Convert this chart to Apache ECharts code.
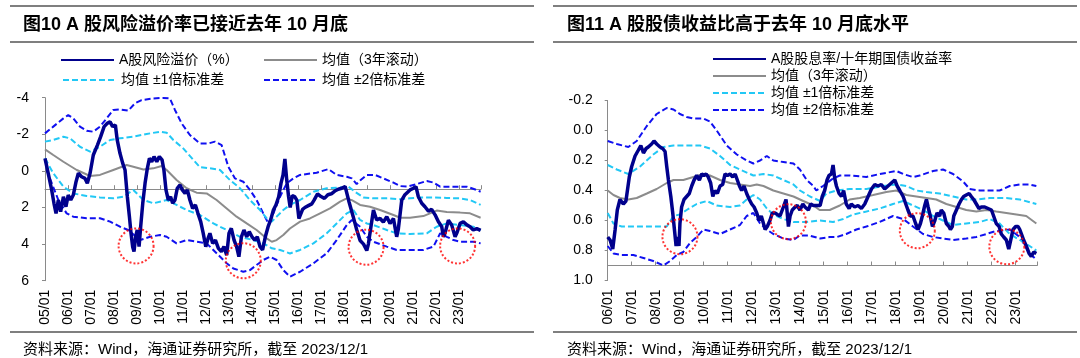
<!DOCTYPE html>
<html><head><meta charset="utf-8">
<script src="https://cdn.jsdelivr.net/npm/echarts@6/dist/echarts.min.js"></script>
<style>html,body{margin:0;padding:0;background:#fff}#c{width:1080px;height:358px}</style>
</head><body><div id="c"></div>
<script>
// ---------- Left panel: A股风险溢价 ----------
const leftYTicks = [-4, -2, 0, 2, 4, 6];
const riskPremium = [[2005.00,-0.69],[2005.14,0.13],[2005.29,1.04],[2005.39,1.77],[2005.48,2.32],[2005.58,1.59],[2005.68,2.23],[2005.80,1.41],[2005.91,1.96],[2006.01,1.32],[2006.12,1.59],[2006.23,1.32],[2006.35,0.59],[2006.45,0.13],[2006.59,0.32],[2006.74,0.41],[2006.84,0.68],[2006.96,0.13],[2007.10,-0.87],[2007.28,-1.41],[2007.42,-1.87],[2007.57,-2.42],[2007.71,-2.60],[2007.83,-2.69],[2007.94,-2.42],[2008.06,-2.51],[2008.14,-1.69],[2008.26,-0.96],[2008.38,-0.41],[2008.48,-0.05],[2008.58,1.41],[2008.67,2.5],[2008.74,3.41],[2008.81,4.14],[2008.87,4.41],[2008.94,3.6],[2009.01,3.23],[2009.09,4.14],[2009.16,3.05],[2009.25,1.77],[2009.35,0.68],[2009.45,-0.14],[2009.54,-0.69],[2009.64,-0.5],[2009.74,-0.78],[2009.86,-0.5],[2009.97,-0.78],[2010.09,-0.6],[2010.17,-0.05],[2010.26,1.04],[2010.36,1.59],[2010.46,1.41],[2010.55,1.77],[2010.65,1.59],[2010.75,0.95],[2010.87,0.77],[2010.97,1.04],[2011.09,1.23],[2011.19,1.04],[2011.30,1.59],[2011.42,2.05],[2011.54,1.86],[2011.65,2.32],[2011.77,2.77],[2011.88,3.41],[2011.99,4.14],[2012.09,3.69],[2012.17,3.41],[2012.29,3.96],[2012.41,3.78],[2012.54,4.23],[2012.67,4.41],[2012.78,4.14],[2012.90,4.6],[2013.00,3.41],[2013.10,3.14],[2013.22,3.78],[2013.33,4.14],[2013.43,4.69],[2013.54,3.6],[2013.65,3.23],[2013.77,3.6],[2013.88,3.32],[2014.00,3.6],[2014.12,3.78],[2014.23,3.6],[2014.35,4.14],[2014.46,4.32],[2014.58,3.6],[2014.70,3.05],[2014.81,2.68],[2014.93,2.14],[2015.04,1.86],[2015.16,1.41],[2015.26,0.68],[2015.35,0.22],[2015.43,-0.65],[2015.51,0.5],[2015.59,1.4],[2015.66,2.0],[2015.75,1.35],[2015.85,1.4],[2015.95,1.6],[2016.04,2.6],[2016.12,2.5],[2016.20,2.1],[2016.30,2.0],[2016.45,1.9],[2016.60,1.8],[2016.70,1.6],[2016.85,1.25],[2017.00,1.4],[2017.15,1.5],[2017.30,1.3],[2017.45,1.25],[2017.60,1.1],[2017.75,1.0],[2017.90,0.95],[2018.05,0.85],[2018.12,1.2],[2018.22,1.7],[2018.40,2.5],[2018.55,3.2],[2018.70,3.8],[2018.85,4.0],[2018.99,4.35],[2019.06,4.0],[2019.13,3.4],[2019.28,2.14],[2019.35,2.1],[2019.42,2.68],[2019.57,2.6],[2019.71,2.8],[2019.86,2.5],[2020.00,2.87],[2020.15,2.6],[2020.22,3.1],[2020.29,3.6],[2020.36,3.2],[2020.51,1.6],[2020.65,1.3],[2020.87,1.04],[2021.02,0.95],[2021.13,0.86],[2021.23,1.4],[2021.38,1.77],[2021.52,1.96],[2021.67,2.2],[2021.81,2.1],[2021.96,2.4],[2022.10,2.77],[2022.25,3.05],[2022.32,3.6],[2022.39,3.41],[2022.54,2.7],[2022.68,2.95],[2022.83,3.6],[2022.90,3.41],[2023.05,2.87],[2023.19,2.78],[2023.34,2.95],[2023.48,3.05],[2023.62,3.23],[2023.77,3.15],[2023.94,3.25]];
const riskMean = [[2005.00,-1.18],[2005.36,-0.87],[2005.80,-0.5],[2006.38,-0.05],[2006.96,0.28],[2007.39,0.22],[2007.97,-0.05],[2008.55,-0.32],[2008.84,-0.23],[2009.28,-0.08],[2009.71,-0.14],[2010.07,-0.27],[2010.29,-0.05],[2010.72,0.5],[2011.16,0.95],[2011.59,1.19],[2012.03,1.23],[2012.46,1.59],[2012.90,2.05],[2013.33,2.5],[2013.77,2.87],[2014.20,3.23],[2014.64,3.69],[2014.86,3.87],[2015.07,3.78],[2015.36,3.5],[2015.65,3.15],[2016.09,2.77],[2016.52,2.6],[2016.96,2.32],[2017.39,2.05],[2017.83,1.68],[2018.12,1.5],[2018.34,1.6],[2018.70,1.86],[2019.13,1.96],[2019.57,2.14],[2020.15,2.41],[2020.44,2.56],[2020.87,2.56],[2021.45,2.47],[2022.03,2.17],[2022.47,2.25],[2023.05,2.28],[2023.48,2.32],[2023.94,2.56]];
const riskUp2 = [[2005.00,-2.05],[2005.36,-2.42],[2005.80,-2.87],[2006.01,-3.05],[2006.23,-2.87],[2006.52,-2.42],[2006.81,-2.2],[2007.10,-2.14],[2007.39,-2.42],[2007.68,-2.87],[2007.97,-3.33],[2008.26,-3.36],[2008.62,-3.29],[2008.91,-3.69],[2009.20,-3.87],[2009.71,-3.96],[2010.14,-3.99],[2010.43,-3.96],[2010.65,-3.33],[2010.94,-2.6],[2011.30,-1.96],[2011.74,-1.5],[2012.10,-1.5],[2012.39,-1.6],[2012.68,-1.41],[2012.97,-0.23],[2013.26,0.41],[2013.62,0.59],[2013.91,1.04],[2014.20,1.59],[2014.49,2.32],[2014.71,2.87],[2014.93,2.32],[2015.22,1.41],[2015.51,0.68],[2015.80,0.41],[2016.09,0.22],[2016.81,0.1],[2017.32,-0.1],[2017.68,0.22],[2018.12,0.32],[2018.34,0.41],[2018.55,0.72],[2018.70,0.53],[2018.99,0.22],[2019.35,0.22],[2019.71,0.41],[2020.15,0.64],[2020.44,0.83],[2020.73,0.86],[2021.16,0.72],[2021.60,0.55],[2021.89,0.64],[2022.18,0.86],[2022.76,0.86],[2023.34,0.86],[2023.77,1.04],[2023.94,1.14]];
const riskUp1 = [[2005.00,-1.6],[2005.36,-1.69],[2005.80,-1.87],[2006.09,-1.78],[2006.52,-1.32],[2006.96,-1.05],[2007.39,-1.32],[2007.83,-1.69],[2008.26,-1.78],[2008.84,-1.87],[2009.42,-2.02],[2010.00,-2.14],[2010.29,-2.09],[2010.58,-1.69],[2011.01,-1.23],[2011.45,-0.6],[2011.74,-0.2],[2012.17,-0.14],[2012.61,-0.05],[2013.04,0.5],[2013.48,0.95],[2013.91,1.59],[2014.35,2.14],[2014.64,2.59],[2014.86,2.77],[2015.07,2.5],[2015.36,2.14],[2015.65,1.86],[2016.09,1.59],[2016.67,1.14],[2017.25,0.95],[2017.97,0.9],[2018.19,0.86],[2018.48,1.14],[2018.84,1.45],[2019.28,1.5],[2019.86,1.5],[2020.44,1.55],[2020.87,1.5],[2021.31,1.45],[2021.89,1.45],[2022.47,1.48],[2023.05,1.5],[2023.48,1.59],[2023.94,1.86]];
const riskDn1 = [[2005.00,-0.69],[2005.36,0.13],[2005.80,0.86],[2006.23,1.23],[2006.81,1.37],[2007.39,1.45],[2007.97,1.5],[2008.41,1.41],[2008.84,1.04],[2009.28,1.59],[2009.71,1.77],[2010.29,1.59],[2010.72,1.86],[2011.16,2.14],[2011.74,2.41],[2012.32,2.87],[2012.90,3.23],[2013.48,3.6],[2014.06,3.78],[2014.49,3.96],[2014.86,4.23],[2015.22,4.32],[2015.65,4.51],[2016.09,4.32],[2016.67,3.96],[2017.25,3.41],[2017.68,2.87],[2018.12,2.32],[2018.41,2.14],[2018.70,2.68],[2018.99,2.87],[2019.28,2.96],[2019.86,3.23],[2020.29,3.41],[2020.87,3.45],[2021.60,3.41],[2022.03,3.05],[2022.47,2.87],[2023.05,2.96],[2023.62,3.05],[2023.94,3.23]];
const riskDn2 = [[2005.07,-0.05],[2005.58,1.59],[2005.94,2.32],[2006.23,2.5],[2006.81,2.59],[2007.39,2.59],[2007.83,2.77],[2008.26,3.05],[2008.62,3.23],[2009.13,3.78],[2009.57,3.6],[2010.00,3.5],[2010.29,3.6],[2010.72,3.96],[2011.16,3.78],[2011.59,3.87],[2012.03,3.96],[2012.46,4.5],[2012.90,5.05],[2013.19,5.33],[2013.62,5.51],[2013.91,5.42],[2014.20,5.14],[2014.49,4.87],[2014.78,4.69],[2015.07,4.87],[2015.36,5.42],[2015.65,5.78],[2016.09,5.51],[2016.67,5.05],[2017.25,4.5],[2017.68,3.78],[2018.12,2.96],[2018.34,2.68],[2018.70,3.05],[2018.99,3.6],[2019.28,3.87],[2019.86,4.14],[2020.29,4.32],[2020.87,4.32],[2021.45,4.32],[2021.89,4.14],[2022.18,3.41],[2022.47,3.6],[2022.76,3.78],[2023.05,3.87],[2023.62,3.87],[2023.94,3.96]];
const leftCircles = [[2008.96,4.10],[2013.62,4.91],[2018.96,4.17],[2022.94,4.10]];

// ---------- Right panel: A股股息率/十年期国债收益率 ----------
const rightYTicks = [-0.2, 0.0, 0.2, 0.4, 0.6, 0.8, 1.0];
const yieldRatio = [[2006.00,0.71],[2006.10,0.73],[2006.21,0.79],[2006.31,0.66],[2006.40,0.53],[2006.51,0.46],[2006.65,0.49],[2006.76,0.47],[2006.90,0.31],[2007.00,0.24],[2007.14,0.17],[2007.28,0.13],[2007.38,0.10],[2007.49,0.15],[2007.60,0.12],[2007.69,0.11],[2007.83,0.09],[2007.93,0.07],[2008.04,0.09],[2008.18,0.11],[2008.29,0.12],[2008.39,0.14],[2008.46,0.24],[2008.53,0.33],[2008.63,0.44],[2008.71,0.55],[2008.78,0.66],[2008.85,0.77],[2008.90,0.71],[2008.97,0.77],[2009.01,0.62],[2009.08,0.51],[2009.18,0.46],[2009.29,0.44],[2009.40,0.42],[2009.50,0.37],[2009.60,0.33],[2009.71,0.30],[2009.82,0.33],[2009.92,0.29],[2010.01,0.30],[2010.10,0.29],[2010.19,0.31],[2010.29,0.35],[2010.38,0.44],[2010.47,0.40],[2010.57,0.42],[2010.68,0.37],[2010.79,0.36],[2010.89,0.29],[2010.99,0.30],[2011.10,0.29],[2011.21,0.31],[2011.31,0.29],[2011.40,0.33],[2011.49,0.37],[2011.58,0.40],[2011.68,0.37],[2011.79,0.42],[2011.90,0.46],[2012.00,0.49],[2012.10,0.51],[2012.21,0.55],[2012.31,0.60],[2012.40,0.57],[2012.49,0.62],[2012.56,0.66],[2012.65,0.64],[2012.76,0.60],[2012.86,0.55],[2012.97,0.55],[2013.07,0.56],[2013.18,0.57],[2013.32,0.51],[2013.43,0.46],[2013.53,0.64],[2013.60,0.57],[2013.69,0.53],[2013.81,0.51],[2013.90,0.50],[2014.01,0.53],[2014.13,0.49],[2014.22,0.51],[2014.36,0.53],[2014.46,0.49],[2014.57,0.50],[2014.71,0.50],[2014.85,0.50],[2014.94,0.44],[2015.04,0.40],[2015.14,0.33],[2015.22,0.30],[2015.32,0.29],[2015.39,0.23],[2015.46,0.32],[2015.53,0.37],[2015.64,0.42],[2015.74,0.44],[2015.83,0.40],[2015.94,0.49],[2016.06,0.52],[2016.15,0.49],[2016.29,0.51],[2016.43,0.50],[2016.57,0.52],[2016.71,0.49],[2016.85,0.44],[2016.99,0.39],[2017.13,0.36],[2017.26,0.37],[2017.40,0.36],[2017.54,0.39],[2017.68,0.37],[2017.82,0.35],[2017.96,0.33],[2018.06,0.37],[2018.17,0.40],[2018.31,0.44],[2018.42,0.49],[2018.51,0.53],[2018.61,0.57],[2018.72,0.57],[2018.83,0.62],[2018.93,0.66],[2019.03,0.62],[2019.11,0.57],[2019.21,0.50],[2019.28,0.46],[2019.35,0.51],[2019.44,0.57],[2019.53,0.64],[2019.63,0.60],[2019.72,0.55],[2019.83,0.57],[2019.90,0.53],[2020.00,0.55],[2020.11,0.62],[2020.22,0.64],[2020.28,0.66],[2020.36,0.64],[2020.42,0.57],[2020.53,0.53],[2020.64,0.49],[2020.74,0.46],[2020.83,0.44],[2020.94,0.43],[2021.06,0.42],[2021.15,0.44],[2021.25,0.46],[2021.36,0.49],[2021.47,0.52],[2021.57,0.51],[2021.71,0.51],[2021.85,0.52],[2021.99,0.53],[2022.08,0.57],[2022.19,0.62],[2022.31,0.64],[2022.40,0.69],[2022.50,0.71],[2022.61,0.73],[2022.71,0.79],[2022.82,0.71],[2022.89,0.66],[2023.00,0.64],[2023.10,0.64],[2023.17,0.66],[2023.24,0.69],[2023.33,0.73],[2023.44,0.77],[2023.56,0.82],[2023.65,0.84],[2023.75,0.81],[2023.86,0.82]];
const yieldMean = [[2006.00,0.40],[2006.24,0.43],[2006.51,0.45],[2006.86,0.46],[2007.21,0.45],[2007.63,0.42],[2008.04,0.39],[2008.46,0.35],[2008.74,0.33],[2009.15,0.33],[2009.57,0.31],[2009.99,0.29],[2010.26,0.30],[2010.68,0.33],[2011.10,0.35],[2011.51,0.36],[2011.93,0.37],[2012.21,0.36],[2012.49,0.37],[2012.90,0.40],[2013.32,0.42],[2013.74,0.44],[2014.15,0.47],[2014.57,0.50],[2014.83,0.53],[2015.25,0.53],[2015.67,0.50],[2016.08,0.46],[2016.50,0.45],[2017.06,0.43],[2017.61,0.41],[2018.03,0.40],[2018.44,0.43],[2018.86,0.44],[2019.28,0.45],[2019.69,0.46],[2020.11,0.49],[2020.53,0.51],[2020.94,0.53],[2021.36,0.54],[2021.78,0.53],[2022.19,0.54],[2022.61,0.55],[2023.03,0.56],[2023.44,0.57],[2023.86,0.62]];
const yieldUp2 = [[2006.00,0.07],[2006.38,0.09],[2006.86,0.11],[2007.21,0.07],[2007.63,-0.03],[2008.04,-0.11],[2008.46,-0.15],[2008.74,-0.14],[2009.01,-0.11],[2009.29,-0.09],[2009.57,-0.08],[2009.99,-0.08],[2010.26,-0.06],[2010.54,0.00],[2010.96,0.10],[2011.38,0.16],[2011.79,0.20],[2012.07,0.22],[2012.35,0.20],[2012.63,0.17],[2012.90,0.20],[2013.32,0.21],[2013.74,0.22],[2014.01,0.26],[2014.29,0.33],[2014.57,0.37],[2014.69,0.40],[2014.97,0.37],[2015.39,0.32],[2015.67,0.30],[2016.08,0.30],[2016.78,0.31],[2017.33,0.29],[2018.03,0.27],[2018.31,0.29],[2018.72,0.31],[2019.00,0.30],[2019.56,0.27],[2019.97,0.26],[2020.39,0.29],[2020.81,0.34],[2021.08,0.39],[2021.50,0.40],[2021.92,0.40],[2022.33,0.40],[2022.75,0.37],[2023.17,0.36],[2023.58,0.36],[2023.86,0.37]];
const yieldUp1 = [[2006.00,0.23],[2006.38,0.26],[2006.86,0.29],[2007.35,0.24],[2007.90,0.16],[2008.32,0.11],[2008.74,0.10],[2009.29,0.10],[2009.85,0.10],[2010.26,0.12],[2010.68,0.17],[2011.10,0.23],[2011.51,0.26],[2012.07,0.30],[2012.49,0.29],[2012.90,0.30],[2013.32,0.33],[2013.74,0.36],[2014.01,0.40],[2014.43,0.44],[2014.85,0.47],[2015.11,0.42],[2015.53,0.40],[2016.08,0.39],[2016.78,0.39],[2017.47,0.37],[2018.03,0.36],[2018.44,0.37],[2018.86,0.40],[2019.28,0.41],[2019.83,0.42],[2020.39,0.44],[2020.94,0.46],[2021.36,0.46],[2021.92,0.45],[2022.61,0.45],[2023.17,0.46],[2023.86,0.49]];
const yieldDn1 = [[2006.00,0.55],[2006.24,0.62],[2006.58,0.64],[2007.35,0.64],[2008.46,0.64],[2008.74,0.57],[2009.01,0.56],[2009.29,0.53],[2009.71,0.49],[2010.13,0.47],[2010.54,0.50],[2011.10,0.51],[2011.51,0.50],[2011.79,0.46],[2012.07,0.43],[2012.35,0.46],[2012.63,0.52],[2012.90,0.56],[2013.32,0.59],[2013.74,0.61],[2014.29,0.61],[2014.85,0.60],[2015.39,0.61],[2015.81,0.59],[2016.22,0.56],[2016.78,0.54],[2017.33,0.52],[2017.89,0.49],[2018.31,0.47],[2018.72,0.50],[2019.14,0.53],[2019.56,0.57],[2019.97,0.60],[2020.39,0.63],[2020.94,0.62],[2021.50,0.61],[2021.92,0.59],[2022.33,0.62],[2022.75,0.69],[2023.17,0.73],[2023.58,0.77],[2023.86,0.80]];
const yieldDn2 = [[2006.00,0.77],[2006.24,0.82],[2006.58,0.83],[2007.07,0.83],[2007.49,0.85],[2007.90,0.87],[2008.32,0.90],[2008.60,0.87],[2008.88,0.83],[2009.15,0.81],[2009.43,0.75],[2009.71,0.71],[2009.99,0.66],[2010.26,0.67],[2010.68,0.69],[2011.10,0.66],[2011.51,0.63],[2011.79,0.57],[2012.07,0.55],[2012.35,0.62],[2012.63,0.66],[2012.90,0.69],[2013.32,0.72],[2013.74,0.73],[2014.00,0.70],[2014.40,0.70],[2014.85,0.72],[2015.25,0.71],[2015.55,0.71],[2015.94,0.69],[2016.36,0.66],[2016.78,0.64],[2017.33,0.61],[2017.89,0.57],[2018.31,0.59],[2018.72,0.64],[2019.14,0.69],[2019.56,0.71],[2019.97,0.72],[2020.39,0.73],[2020.94,0.72],[2021.36,0.71],[2021.78,0.69],[2022.19,0.67],[2022.75,0.66],[2023.17,0.71],[2023.58,0.82],[2023.86,0.86]];
const rightCircles = [[2009.01,0.708],[2013.53,0.608],[2018.90,0.668],[2022.63,0.775]];

// ---------- Texts ----------
const leftTitle = '{n|图}{b|10 A }{n|股风险溢价率已接近去年 }{b|10 }{n|月底}';
const rightTitle = '{n|图}{b|11 A }{n|股股债收益比高于去年 }{b|10 }{n|月底水平}';
const sourceText = '资料来源：Wind，海通证券研究所，截至 2023/12/1';
const leftNames = ['A股风险溢价（%）', '均值（3年滚动）', '均值 ±1倍标准差', '均值 ±2倍标准差'];
const rightNames = ['A股股息率/十年期国债收益率', '均值（3年滚动）', '均值 ±1倍标准差', '均值 ±2倍标准差'];

const FONT = '"Liberation Sans", Arial, "Noto Sans CJK SC", sans-serif';
const C_MAIN = '#00008c', C_MEAN = '#8c8c8c', C_S1 = '#22c8f5', C_S2 = '#1010f0', C_RULE = '#7f7f7f';
const DASH = [6, 3];

function lineSeries(name, data, color, width, dashed, xi, yi, z) {
  return { type: 'line', name, data, xAxisIndex: xi, yAxisIndex: yi, symbol: 'none', z,
    lineStyle: { color, width, type: dashed ? DASH : 'solid' }, itemStyle: { color }, silent: true };
}
function circleSeries(data, xi, yi) {
  return { type: 'scatter', data, xAxisIndex: xi, yAxisIndex: yi, symbol: 'circle', symbolSize: 35, z: 10, silent: true,
    itemStyle: { color: 'rgba(0,0,0,0)', borderColor: '#ff0000', borderWidth: 2, borderType: [2, 2] } };
}
const yearLabel = v => (Math.abs(v - Math.round(v)) < 1e-6) ? String(Math.round(v) % 100).padStart(2, '0') + '/01' : '';

function xAxesFor(grid, min, max, hiddenY) {
  return [
    { type: 'value', gridIndex: grid, min, max, interval: 1, position: 'bottom',
      axisLine: { show: false, onZero: false }, axisTick: { show: false }, splitLine: { show: false },
      axisLabel: { rotate: 90, margin: 9, fontSize: 14, color: '#000', fontFamily: FONT, formatter: yearLabel, showMaxLabel: false } },
    { type: 'value', gridIndex: grid, min, max, interval: 1, position: 'bottom',
      axisLine: { show: true, onZero: true, onZeroAxisIndex: hiddenY, lineStyle: { color: '#8a8a8a', width: 1 } },
      axisTick: { show: true, inside: true, length: 4, lineStyle: { color: '#8a8a8a' } },
      axisLabel: { show: false }, splitLine: { show: false } }
  ];
}
function yAxisFor(grid, ticks, fmt, margin) {
  return { type: 'value', gridIndex: grid, inverse: true, min: ticks[0], max: ticks[ticks.length - 1],
    interval: ticks[1] - ticks[0],
    axisLine: { show: true, onZero: false, lineStyle: { color: '#8a8a8a', width: 1 } },
    axisTick: { show: true, length: 3, lineStyle: { color: '#8a8a8a' } }, splitLine: { show: false },
    axisLabel: { fontSize: 14, color: '#000', fontFamily: FONT, margin, formatter: fmt } };
}
const legendBase = { orient: 'horizontal', itemWidth: 53, itemHeight: 14, padding: 0, itemGap: 0,
  itemStyle: { color: 'rgba(0,0,0,0)', borderWidth: 0, opacity: 0 },
  textStyle: { fontSize: 14, color: '#000', fontFamily: FONT }, selectedMode: false };

const option = {
  animation: false,
  backgroundColor: '#fff',
  textStyle: { fontFamily: FONT },
  title: [
    { text: leftTitle, left: 23, top: 16, padding: 0,
      textStyle: { rich: { n: { fontSize: 18, fontFamily: FONT, color: '#000' }, b: { fontSize: 18, fontWeight: 'bold', fontFamily: FONT, color: '#000' } } } },
    { text: rightTitle, left: 567, top: 16, padding: 0,
      textStyle: { rich: { n: { fontSize: 18, fontFamily: FONT, color: '#000' }, b: { fontSize: 18, fontWeight: 'bold', fontFamily: FONT, color: '#000' } } } },
    { text: sourceText, left: 23, top: 342, padding: 0, textStyle: { fontSize: 15, fontWeight: 'normal', color: '#000', fontFamily: FONT } },
    { text: sourceText, left: 567, top: 342, padding: 0, textStyle: { fontSize: 15, fontWeight: 'normal', color: '#000', fontFamily: FONT } }
  ],
  legend: [
    Object.assign({}, legendBase, { left: 60, top: 53, data: [leftNames[0]] }),
    Object.assign({}, legendBase, { left: 263, top: 53, data: [leftNames[1]] }),
    Object.assign({}, legendBase, { left: 62, top: 73, data: [leftNames[2]] }),
    Object.assign({}, legendBase, { left: 263, top: 73, data: [leftNames[3]] }),
    Object.assign({}, legendBase, { orient: 'vertical', left: 712, top: 52, itemGap: 3, data: rightNames })
  ],
  grid: [
    { left: 45, top: 97.7, width: 435.85, height: 183 },
    { left: 607.7, top: 100.5, width: 429.6, height: 180 }
  ],
  xAxis: [].concat(xAxesFor(0, 2005, 2023.95, 1), xAxesFor(1, 2006, 2023.9, 3)),
  yAxis: [
    yAxisFor(0, leftYTicks, v => String(Math.round(v)), 16),
    { type: 'value', gridIndex: 0, show: false, inverse: true, min: -5, max: 5 },
    yAxisFor(1, rightYTicks, v => v.toFixed(1), 15),
    { type: 'value', gridIndex: 1, show: false, inverse: true, min: -1.1, max: 0.1 }
  ],
  graphic: [
    { type: 'line', shape: { x1: 10, y1: 6, x2: 534, y2: 6 }, style: { stroke: C_RULE, lineWidth: 2 } },
    { type: 'line', shape: { x1: 10, y1: 42, x2: 534, y2: 42 }, style: { stroke: C_RULE, lineWidth: 2 } },
    { type: 'line', shape: { x1: 10, y1: 332, x2: 534, y2: 332 }, style: { stroke: C_RULE, lineWidth: 2 } },
    { type: 'line', shape: { x1: 553, y1: 6, x2: 1077, y2: 6 }, style: { stroke: C_RULE, lineWidth: 2 } },
    { type: 'line', shape: { x1: 553, y1: 42, x2: 1077, y2: 42 }, style: { stroke: C_RULE, lineWidth: 2 } },
    { type: 'line', shape: { x1: 553, y1: 332, x2: 1077, y2: 332 }, style: { stroke: C_RULE, lineWidth: 2 } }
  ],
  series: [
    lineSeries(leftNames[3], riskUp2, C_S2, 2, true, 1, 0, 2),
    lineSeries(leftNames[3], riskDn2, C_S2, 2, true, 1, 0, 2),
    lineSeries(leftNames[2], riskUp1, C_S1, 2, true, 1, 0, 3),
    lineSeries(leftNames[2], riskDn1, C_S1, 2, true, 1, 0, 3),
    lineSeries(leftNames[1], riskMean, C_MEAN, 2, false, 1, 0, 4),
    lineSeries(leftNames[0], riskPremium, C_MAIN, 3.5, false, 1, 0, 5),
    circleSeries(leftCircles, 1, 0),
    lineSeries(rightNames[3], yieldUp2, C_S2, 2, true, 3, 2, 2),
    lineSeries(rightNames[3], yieldDn2, C_S2, 2, true, 3, 2, 2),
    lineSeries(rightNames[2], yieldUp1, C_S1, 2, true, 3, 2, 3),
    lineSeries(rightNames[2], yieldDn1, C_S1, 2, true, 3, 2, 3),
    lineSeries(rightNames[1], yieldMean, C_MEAN, 2, false, 3, 2, 4),
    lineSeries(rightNames[0], yieldRatio, C_MAIN, 3.5, false, 3, 2, 5),
    circleSeries(rightCircles, 3, 2)
  ]
};
const chart = echarts.init(document.getElementById('c'), null, { renderer: 'canvas' });
chart.setOption(option);
</script></body></html>
